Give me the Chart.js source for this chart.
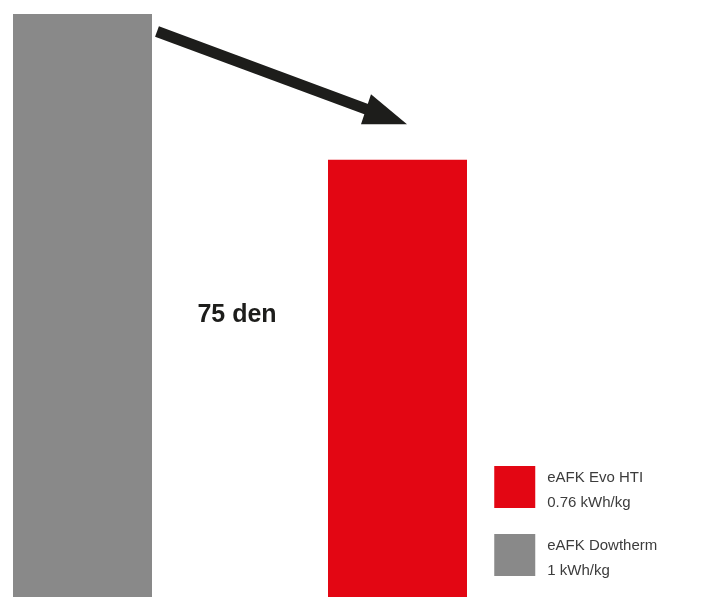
<!DOCTYPE html>
<html lang="en">
<head>
  <meta charset="UTF-8" />
  <title>eAFK energy</title>
  <script src="https://cdn.jsdelivr.net/npm/chart.js"></script>
  <style>
    html, body { margin: 0; padding: 0; background: #fff; }
    #wrap { width: 721px; height: 597px; }
  </style>
</head>
<body>
  <div id="wrap"><canvas id="chart" width="721" height="597"></canvas></div>
  <script>
    // data
    const categories = ['eAFK Dowtherm', '', 'eAFK Evo HTI'];
    const values = [1, null, 0.75];
    const valueLabels = ['1 kWh/kg', '', '0.76 kWh/kg'];
    const barColors = ['#898989', 'rgba(0,0,0,0)', '#E30613'];
    const legendOrder = [2, 0];
    const middleText = '75 den';

    const ink = '#1d1d1b';

    // arrow from top of the grey bar down toward the red bar + the "75 den" note
    const annotations = {
      id: 'annotations',
      afterDatasetsDraw(chart) {
        const ctx = chart.ctx;
        const bars = chart.getDatasetMeta(0).data;
        const y = chart.scales.y;
        const sx = bars[0].x + bars[0].width / 2 + 5, sy = y.getPixelForValue(0.97);
        const tx = bars[2].x + 9.5, ty = y.getPixelForValue(0.811);
        const ang = Math.atan2(ty - sy, tx - sx);
        const ex = tx - 32, ey = sy + (ex - sx) * Math.tan(ang);

        ctx.save();
        ctx.strokeStyle = ink;
        ctx.fillStyle = ink;
        ctx.lineWidth = 11;
        ctx.lineCap = 'butt';
        ctx.beginPath();
        ctx.moveTo(sx, sy);
        ctx.lineTo(ex, ey);
        ctx.stroke();
        ctx.beginPath();
        ctx.moveTo(tx - 36, ty - 30);
        ctx.lineTo(tx - 46, ty);
        ctx.lineTo(tx, ty);
        ctx.closePath();
        ctx.fill();

        ctx.font = 'bold 25px "Liberation Sans", Arial, sans-serif';
        ctx.textAlign = 'center';
        ctx.textBaseline = 'alphabetic';
        ctx.fillText(middleText, bars[1].x - 3, y.getPixelForValue(0.471));
        ctx.restore();
      }
    };

    const sideLegend = {
      id: 'sideLegend',
      afterDraw(chart) {
        const ctx = chart.ctx;
        const left = chart.chartArea.right + 18;
        ctx.save();
        ctx.font = '15px "Liberation Sans", Arial, sans-serif';
        ctx.textAlign = 'left';
        ctx.textBaseline = 'alphabetic';
        legendOrder.forEach((idx, i) => {
          const top = 466 + i * 68;
          ctx.fillStyle = barColors[idx];
          ctx.fillRect(left, top, 41, 42);
          ctx.fillStyle = '#3c3c3c';
          ctx.fillText(categories[idx], left + 53, top + 16);
          ctx.fillText(valueLabels[idx], left + 53, top + 41);
        });
        ctx.restore();
      }
    };

    new Chart(document.getElementById('chart'), {
      type: 'bar',
      data: {
        labels: categories,
        datasets: [{
          data: values,
          backgroundColor: barColors,
          borderWidth: 0,
          barPercentage: 0.8825,
          categoryPercentage: 1
        }]
      },
      options: {
        responsive: false,
        animation: false,
        layout: { padding: { left: 3.75, right: 244.75, top: 14, bottom: 0 } },
        scales: {
          x: { display: false },
          y: { display: false, min: 0, max: 1 }
        },
        plugins: { legend: { display: false }, tooltip: { enabled: false } }
      },
      plugins: [annotations, sideLegend]
    });
  </script>
</body>
</html>
